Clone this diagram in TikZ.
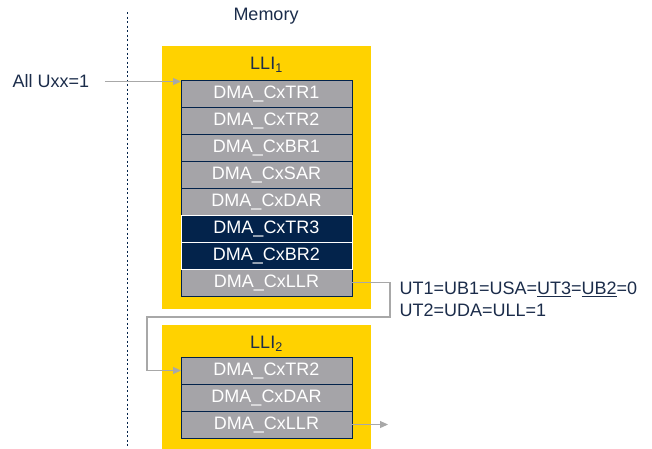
\documentclass[tikz,border=0pt]{standalone}
\usepackage{fontspec}
\setmainfont{Liberation Sans}
\usetikzlibrary{positioning,arrows.meta}

\definecolor{stYellow}{HTML}{FFD200}
\definecolor{stNavy}{HTML}{03234B}
\definecolor{regGray}{HTML}{A5A4A8}
\definecolor{txtNavy}{HTML}{1B2C4A}
\definecolor{linkGray}{HTML}{A8A8A8}

\begin{document}
\begin{tikzpicture}[x=1pt, y=-1pt,
  font=\fontsize{18}{22}\selectfont, text=txtNavy,
  lli/.style={fill=stYellow, minimum width=209pt, inner sep=0pt, outer sep=0pt},
  reg/.style={draw=stNavy, line width=0.8pt, fill=regGray, text=white,
    minimum width=171pt, minimum height=27pt, inner sep=0pt, outer sep=0pt},
  regdark/.style={reg, draw=white, fill=stNavy},
  link/.style={draw=linkGray, line width=1.1pt, -{Triangle[length=8pt,width=7pt]}}]

\clip (0,0) rectangle (652,448);

\draw [stNavy, line width=1pt, dash pattern=on 2pt off 2.5pt] (127,12) -- (127,448);
\node (memory) at (266,16) {Memory};

% first linked-list item
\node [lli, minimum height=263pt] (lliA) at (266.5,177.5) {};
\node (lliAname) at ([yshift=-19pt]lliA.north) {LLI\textsubscript{1}};
\node [reg, below=34pt of lliA.north] (trA1) {DMA\_CxTR1};
\node [reg, below=0pt of trA1] (trA2) {DMA\_CxTR2};
\node [reg, below=0pt of trA2] (brA1) {DMA\_CxBR1};
\node [reg, below=0pt of brA1] (sarA) {DMA\_CxSAR};
\node [reg, below=0pt of sarA] (darA) {DMA\_CxDAR};
\node [reg, below=54pt of darA] (llrA) {DMA\_CxLLR};
\node [regdark, below=0pt of darA] (trA3) {DMA\_CxTR3};
\node [regdark, below=0pt of trA3] (brA2) {DMA\_CxBR2};

% second linked-list item
\node [lli, minimum height=127pt] (lliB) at (266.5,388.5) {};
\node (lliBname) at ([yshift=-19pt]lliB.north) {LLI\textsubscript{2}};
\node [reg, below=32pt of lliB.north] (trB2) {DMA\_CxTR2};
\node [reg, below=0pt of trB2] (darB) {DMA\_CxDAR};
\node [reg, below=0pt of darB] (llrB) {DMA\_CxLLR};

% update flags
\node (allUxx) at (51,81.5) {All Uxx=1};
\node [anchor=west, align=left] (flags) at (396,299.5)
  {UT1=UB1=USA=\underline{UT3}=\underline{UB2}=0\\UT2=UDA=ULL=1};

\draw [link] ([xshift=12pt]allUxx.east) -- (allUxx.east -| trA1.west);

\coordinate (hopA) at (390,317);
\coordinate (hopB) at (147,317);
\draw [link] (llrA.east) -| (hopA) -- (hopB) |- (trB2.west);

\coordinate [right=36pt of llrB.east] (nextLLI);
\draw [link] (llrB.east) -- (nextLLI);

\end{tikzpicture}
\end{document}
